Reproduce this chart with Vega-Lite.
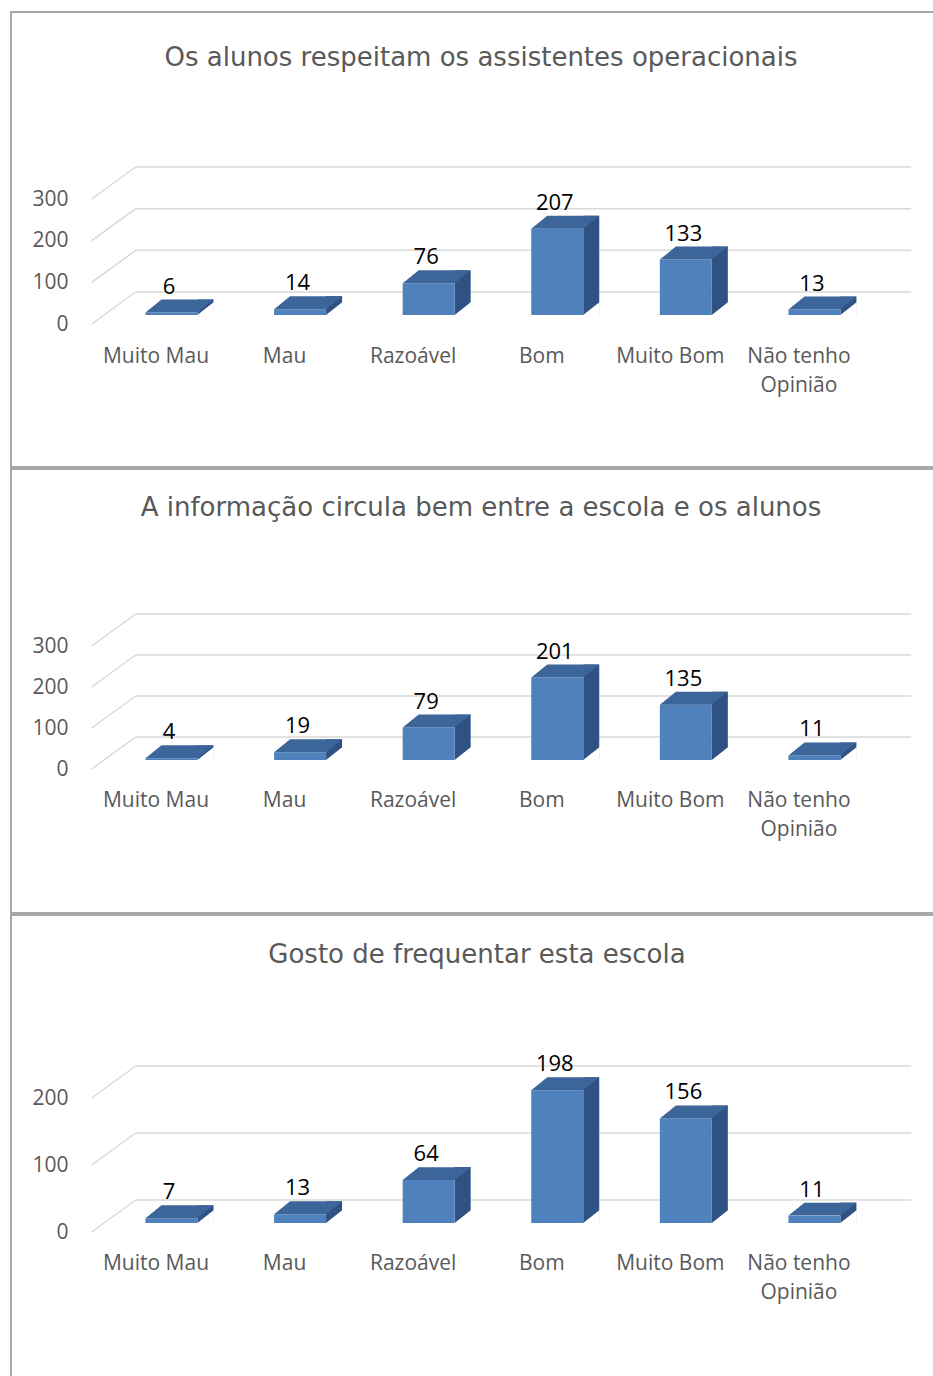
{
  "$schema": "https://vega.github.io/schema/vega-lite/v6.json",
  "padding": {"left": 10, "top": 11, "right": 0, "bottom": 0},
  "background": "white",
  "spacing": 0,
  "config": {
    "view": {"stroke": "#8c8c8c", "strokeWidth": 1.5},
    "title": {"font": "DejaVu Sans", "fontSize": 26, "fontWeight": "normal", "color": "#595959", "anchor": "middle", "frame": "group", "baseline": "alphabetic"},
    "axis": {"labelFont": "Open Sans", "labelFontSize": 21, "labelColor": "#595959", "domain": false, "ticks": false, "grid": false, "title": null, "labelPadding": 0}
  },
  "datasets": {
    "p1": [
      {"cat": "Muito Mau", "value": 6},
      {"cat": "Mau", "value": 14},
      {"cat": "Razoável", "value": 76},
      {"cat": "Bom", "value": 207},
      {"cat": "Muito Bom", "value": 133},
      {"cat": "Não tenho Opinião", "value": 13}
    ],
    "p2": [
      {"cat": "Muito Mau", "value": 4},
      {"cat": "Mau", "value": 19},
      {"cat": "Razoável", "value": 79},
      {"cat": "Bom", "value": 201},
      {"cat": "Muito Bom", "value": 135},
      {"cat": "Não tenho Opinião", "value": 11}
    ],
    "p3": [
      {"cat": "Muito Mau", "value": 7},
      {"cat": "Mau", "value": 13},
      {"cat": "Razoável", "value": 64},
      {"cat": "Bom", "value": 198},
      {"cat": "Muito Bom", "value": 156},
      {"cat": "Não tenho Opinião", "value": 11}
    ],
    "t1": [{"v": 0}, {"v": 100}, {"v": 200}, {"v": 300}],
    "t3": [{"v": 0}, {"v": 100}, {"v": 200}]
  },
  "vconcat": [
    {
      "width": 940, "height": 455,
      "title": {"text": "Os alunos respeitam os assistentes operacionais", "offset": -59},
      "layer": [
        {"data": {"name": "p1"}, "mark": {"type": "bar", "width": 52, "xOffset": 15.5, "color": "#4f81bd", "opacity": 0},
         "encoding": {
           "x": {"field": "cat", "type": "nominal", "sort": null,
                 "scale": {"domain": ["Muito Mau", "Mau", "Razoável", "Bom", "Muito Bom", "Não tenho Opinião"], "paddingInner": 0, "paddingOuter": 0.655, "align": 0.479},
                 "axis": {"orient": "bottom", "offset": -121.5, "labelAngle": 0, "labelBaseline": "top", "labelLineHeight": 29, "labelOverlap": false, "labelLimit": 0,
                          "labelExpr": "datum.value == 'Não tenho Opinião' ? ['Não tenho', 'Opinião'] : datum.label"}},
           "y": {"field": "value", "type": "quantitative",
                 "scale": {"domain": [0, 300], "range": [303, 178], "nice": false},
                 "axis": {"orient": "left", "offset": -57, "values": [0, 100, 200, 300], "labelAlign": "right", "labelBaseline": "middle", "labelOffset": 9}}}},
        {"data": {"name": "t1"}, "mark": {"type": "rule", "color": "#d9d9d9", "strokeWidth": 1.5, "xOffset": 44, "x2Offset": 48, "yOffset": -23},
         "encoding": {"x": {"datum": "Muito Mau", "type": "nominal", "bandPosition": 0}, "x2": {"datum": "Não tenho Opinião", "bandPosition": 1}, "y": {"field": "v", "type": "quantitative"}}},
        {"data": {"name": "t1"}, "mark": {"type": "rule", "color": "#d9d9d9", "strokeWidth": 1.5, "xOffset": 0, "x2Offset": 44, "yOffset": 9, "y2Offset": -23},
         "encoding": {"x": {"datum": "Muito Mau", "type": "nominal", "bandPosition": 0}, "x2": {"datum": "Muito Mau", "bandPosition": 0}, "y": {"field": "v", "type": "quantitative"}, "y2": {"field": "v"}}},
        {"data": {"name": "p1"}, "mark": {"type": "bar", "width": 16, "xOffset": 49.5, "yOffset": -13, "color": "#2f5283"},
         "encoding": {"x": {"field": "cat", "type": "nominal"}, "y": {"field": "value", "type": "quantitative"}, "y2": {"datum": 0}}},
        {"data": {"name": "p1"}, "mark": {"type": "point", "shape": "M -1.05 0.85 L 1.05 0.85 L 1.05 -0.8125 Z", "filled": true, "size": 256, "color": "white", "opacity": 1, "strokeWidth": 0, "xOffset": 49.5, "yOffset": -6.5},
         "encoding": {"x": {"field": "cat", "type": "nominal"}, "y": {"datum": 0, "type": "quantitative"}}},
        {"data": {"name": "p1"}, "mark": {"type": "bar", "width": 52, "xOffset": 15.5, "color": "#4f81bd"},
         "encoding": {"x": {"field": "cat", "type": "nominal"}, "y": {"field": "value", "type": "quantitative"}}},
        {"data": {"name": "p1"}, "mark": {"type": "point", "shape": "M -1 0.191 L 0.529 0.191 L 1 -0.191 L -0.529 -0.191 Z", "filled": true, "size": 4624, "color": "#3c6599", "opacity": 1, "strokeWidth": 0, "xOffset": 23.5, "yOffset": -6.5},
         "encoding": {"x": {"field": "cat", "type": "nominal"}, "y": {"field": "value", "type": "quantitative"}}},
        {"data": {"name": "p1"}, "mark": {"type": "text", "font": "Open Sans", "fontSize": 22, "color": "#000000", "dx": 13, "dy": -19, "baseline": "alphabetic", "align": "center"},
         "encoding": {"x": {"field": "cat", "type": "nominal"}, "y": {"field": "value", "type": "quantitative"}, "text": {"field": "value", "type": "quantitative"}}}
      ]
    },
    {
      "width": 940, "height": 444,
      "title": {"text": "A informação circula bem entre a escola e os alunos", "offset": -52},
      "layer": [
        {"data": {"name": "p2"}, "mark": {"type": "bar", "width": 52, "xOffset": 15.5, "color": "#4f81bd", "opacity": 0},
         "encoding": {
           "x": {"field": "cat", "type": "nominal", "sort": null,
                 "scale": {"domain": ["Muito Mau", "Mau", "Razoável", "Bom", "Muito Bom", "Não tenho Opinião"], "paddingInner": 0, "paddingOuter": 0.655, "align": 0.479},
                 "axis": {"orient": "bottom", "offset": -123.5, "labelAngle": 0, "labelBaseline": "top", "labelLineHeight": 29, "labelOverlap": false, "labelLimit": 0,
                          "labelExpr": "datum.value == 'Não tenho Opinião' ? ['Não tenho', 'Opinião'] : datum.label"}},
           "y": {"field": "value", "type": "quantitative",
                 "scale": {"domain": [0, 300], "range": [291, 168], "nice": false},
                 "axis": {"orient": "left", "offset": -57, "values": [0, 100, 200, 300], "labelAlign": "right", "labelBaseline": "middle", "labelOffset": 9}}}},
        {"data": {"name": "t1"}, "mark": {"type": "rule", "color": "#d9d9d9", "strokeWidth": 1.5, "xOffset": 44, "x2Offset": 48, "yOffset": -23},
         "encoding": {"x": {"datum": "Muito Mau", "type": "nominal", "bandPosition": 0}, "x2": {"datum": "Não tenho Opinião", "bandPosition": 1}, "y": {"field": "v", "type": "quantitative"}}},
        {"data": {"name": "t1"}, "mark": {"type": "rule", "color": "#d9d9d9", "strokeWidth": 1.5, "xOffset": 0, "x2Offset": 44, "yOffset": 9, "y2Offset": -23},
         "encoding": {"x": {"datum": "Muito Mau", "type": "nominal", "bandPosition": 0}, "x2": {"datum": "Muito Mau", "bandPosition": 0}, "y": {"field": "v", "type": "quantitative"}, "y2": {"field": "v"}}},
        {"data": {"name": "p2"}, "mark": {"type": "bar", "width": 16, "xOffset": 49.5, "yOffset": -13, "color": "#2f5283"},
         "encoding": {"x": {"field": "cat", "type": "nominal"}, "y": {"field": "value", "type": "quantitative"}, "y2": {"datum": 0}}},
        {"data": {"name": "p2"}, "mark": {"type": "point", "shape": "M -1.05 0.85 L 1.05 0.85 L 1.05 -0.8125 Z", "filled": true, "size": 256, "color": "white", "opacity": 1, "strokeWidth": 0, "xOffset": 49.5, "yOffset": -6.5},
         "encoding": {"x": {"field": "cat", "type": "nominal"}, "y": {"datum": 0, "type": "quantitative"}}},
        {"data": {"name": "p2"}, "mark": {"type": "bar", "width": 52, "xOffset": 15.5, "color": "#4f81bd"},
         "encoding": {"x": {"field": "cat", "type": "nominal"}, "y": {"field": "value", "type": "quantitative"}}},
        {"data": {"name": "p2"}, "mark": {"type": "point", "shape": "M -1 0.191 L 0.529 0.191 L 1 -0.191 L -0.529 -0.191 Z", "filled": true, "size": 4624, "color": "#3c6599", "opacity": 1, "strokeWidth": 0, "xOffset": 23.5, "yOffset": -6.5},
         "encoding": {"x": {"field": "cat", "type": "nominal"}, "y": {"field": "value", "type": "quantitative"}}},
        {"data": {"name": "p2"}, "mark": {"type": "text", "font": "Open Sans", "fontSize": 22, "color": "#000000", "dx": 13, "dy": -19, "baseline": "alphabetic", "align": "center"},
         "encoding": {"x": {"field": "cat", "type": "nominal"}, "y": {"field": "value", "type": "quantitative"}, "text": {"field": "value", "type": "quantitative"}}}
      ]
    },
    {
      "width": 940, "height": 470,
      "title": {"text": "Gosto de frequentar esta escola", "offset": -53, "dx": -4},
      "layer": [
        {"data": {"name": "p3"}, "mark": {"type": "bar", "width": 52, "xOffset": 15.5, "color": "#4f81bd", "opacity": 0},
         "encoding": {
           "x": {"field": "cat", "type": "nominal", "sort": null,
                 "scale": {"domain": ["Muito Mau", "Mau", "Razoável", "Bom", "Muito Bom", "Não tenho Opinião"], "paddingInner": 0, "paddingOuter": 0.655, "align": 0.479},
                 "axis": {"orient": "bottom", "offset": -132.5, "labelAngle": 0, "labelBaseline": "top", "labelLineHeight": 29, "labelOverlap": false, "labelLimit": 0,
                          "labelExpr": "datum.value == 'Não tenho Opinião' ? ['Não tenho', 'Opinião'] : datum.label"}},
           "y": {"field": "value", "type": "quantitative",
                 "scale": {"domain": [0, 200], "range": [308, 174], "nice": false},
                 "axis": {"orient": "left", "offset": -57, "values": [0, 100, 200], "labelAlign": "right", "labelBaseline": "middle", "labelOffset": 9}}}},
        {"data": {"name": "t3"}, "mark": {"type": "rule", "color": "#d9d9d9", "strokeWidth": 1.5, "xOffset": 44, "x2Offset": 48, "yOffset": -23},
         "encoding": {"x": {"datum": "Muito Mau", "type": "nominal", "bandPosition": 0}, "x2": {"datum": "Não tenho Opinião", "bandPosition": 1}, "y": {"field": "v", "type": "quantitative"}}},
        {"data": {"name": "t3"}, "mark": {"type": "rule", "color": "#d9d9d9", "strokeWidth": 1.5, "xOffset": 0, "x2Offset": 44, "yOffset": 9, "y2Offset": -23},
         "encoding": {"x": {"datum": "Muito Mau", "type": "nominal", "bandPosition": 0}, "x2": {"datum": "Muito Mau", "bandPosition": 0}, "y": {"field": "v", "type": "quantitative"}, "y2": {"field": "v"}}},
        {"data": {"name": "p3"}, "mark": {"type": "bar", "width": 16, "xOffset": 49.5, "yOffset": -13, "color": "#2f5283"},
         "encoding": {"x": {"field": "cat", "type": "nominal"}, "y": {"field": "value", "type": "quantitative"}, "y2": {"datum": 0}}},
        {"data": {"name": "p3"}, "mark": {"type": "point", "shape": "M -1.05 0.85 L 1.05 0.85 L 1.05 -0.8125 Z", "filled": true, "size": 256, "color": "white", "opacity": 1, "strokeWidth": 0, "xOffset": 49.5, "yOffset": -6.5},
         "encoding": {"x": {"field": "cat", "type": "nominal"}, "y": {"datum": 0, "type": "quantitative"}}},
        {"data": {"name": "p3"}, "mark": {"type": "bar", "width": 52, "xOffset": 15.5, "color": "#4f81bd"},
         "encoding": {"x": {"field": "cat", "type": "nominal"}, "y": {"field": "value", "type": "quantitative"}}},
        {"data": {"name": "p3"}, "mark": {"type": "point", "shape": "M -1 0.191 L 0.529 0.191 L 1 -0.191 L -0.529 -0.191 Z", "filled": true, "size": 4624, "color": "#3c6599", "opacity": 1, "strokeWidth": 0, "xOffset": 23.5, "yOffset": -6.5},
         "encoding": {"x": {"field": "cat", "type": "nominal"}, "y": {"field": "value", "type": "quantitative"}}},
        {"data": {"name": "p3"}, "mark": {"type": "text", "font": "Open Sans", "fontSize": 22, "color": "#000000", "dx": 13, "dy": -19, "baseline": "alphabetic", "align": "center"},
         "encoding": {"x": {"field": "cat", "type": "nominal"}, "y": {"field": "value", "type": "quantitative"}, "text": {"field": "value", "type": "quantitative"}}}
      ]
    }
  ]
}
